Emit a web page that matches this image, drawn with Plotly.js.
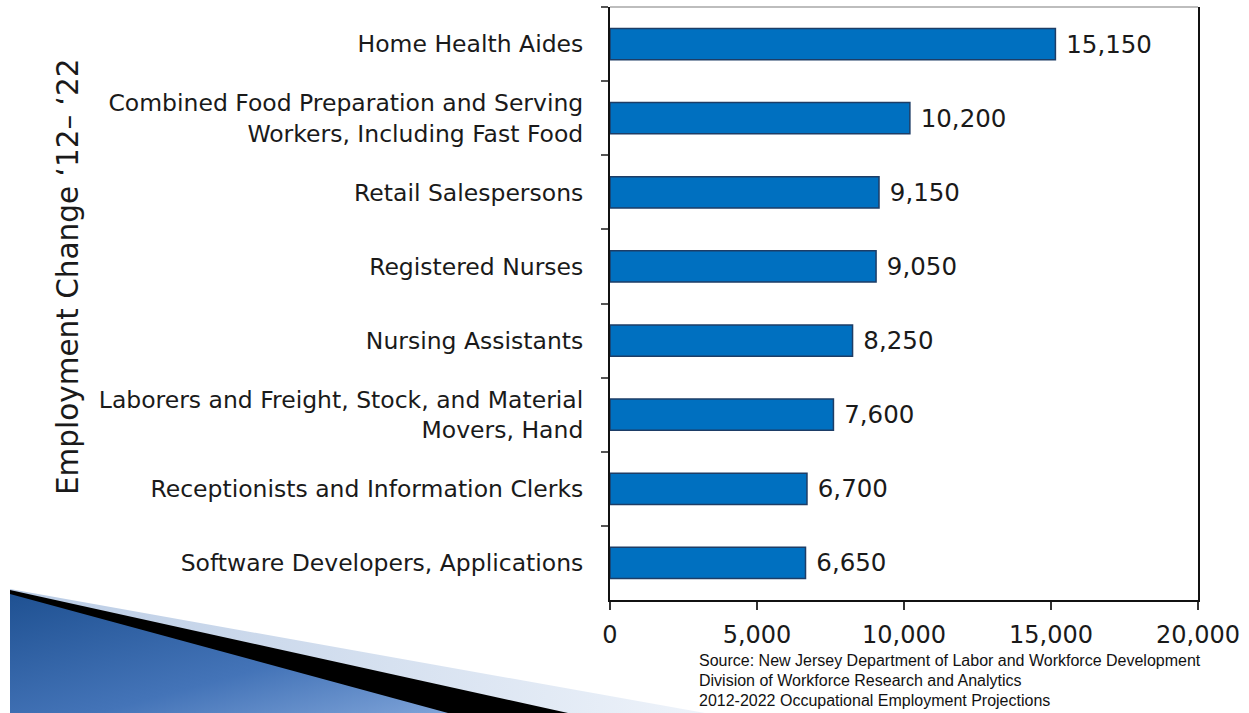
<!DOCTYPE html>
<html>
<head>
<meta charset="utf-8">
<script src="https://cdn.plot.ly/plotly-3.0.1.min.js"></script>
<style>
  html, body { margin:0; padding:0; background:#fff; }
  #wrap { position:relative; width:1249px; height:713px; overflow:hidden; }
  #deco { position:absolute; left:0; top:0; }
  #chart { position:absolute; left:0; top:0; width:1249px; height:713px; }
</style>
</head>
<body>
<div id="wrap">
<svg id="deco" width="1249" height="713">
  <defs>
    <linearGradient id="fade" x1="0" y1="0" x2="1" y2="0">
      <stop offset="0" stop-color="#b9cbe4"/>
      <stop offset="1" stop-color="#eef3fa"/>
    </linearGradient>
    <linearGradient id="blue" x1="0" y1="0" x2="1" y2="1">
      <stop offset="0" stop-color="#1f5192"/>
      <stop offset="0.6" stop-color="#4474b8"/>
      <stop offset="1" stop-color="#7ea3d8"/>
    </linearGradient>
  </defs>
  <polygon points="10,589 705,713 10,713" fill="url(#fade)"/>
  <polygon points="10,590 568,713 10,713" fill="#000"/>
  <polygon points="10,594 448,713 10,713" fill="url(#blue)"/>
</svg>
<div id="chart"></div>
</div>
<script>
const categories = [
  "Home Health Aides",
  "Combined Food Preparation and Serving<br>Workers, Including Fast Food",
  "Retail Salespersons",
  "Registered Nurses",
  "Nursing Assistants",
  "Laborers and Freight, Stock, and Material<br>Movers, Hand",
  "Receptionists and Information Clerks",
  "Software Developers, Applications"
];
const employmentChange = [15150, 10200, 9150, 9050, 8250, 7600, 6700, 6650];
const xTickValues = [0, 5000, 10000, 15000, 20000];
const xTickLabels = ["0", "5,000", "10,000", "15,000", "20,000"];
const yAxisTitle = "Employment Change \u201812\u2013 \u201822";
const sourceLines = [
  "Source: New Jersey Department of Labor and Workforce Development",
  "Division of Workforce Research and Analytics",
  "2012-2022 Occupational Employment Projections"
];

const font = "DejaVu Sans, Verdana, sans-serif";

const trace = {
  type: "bar",
  orientation: "h",
  y: categories,
  x: employmentChange,
  marker: { color: "#0070c0", line: { color: "#1d3d66", width: 1.5 } },
  text: employmentChange.map(v => " " + v.toLocaleString("en-US")),
  textposition: "outside",
  textfont: { family: font, size: 24.5, color: "#1a1a1a" },
  cliponaxis: false,
  hoverinfo: "skip"
};

const annotations = [
  {
    text: yAxisTitle, textangle: -90, showarrow: false,
    xref: "paper", yref: "paper", x: -0.922, y: 0.546,
    xanchor: "center", yanchor: "middle",
    font: { family: font, size: 29.5, color: "#1a1a1a" }
  }
];
sourceLines.forEach((s, i) => {
  annotations.push({
    text: s, showarrow: false, xref: "paper", yref: "paper",
    x: (697 - 610) / 588, y: 1 - (660 + i * 20 - 7) / 593,
    xanchor: "left", yanchor: "middle",
    font: { family: "Liberation Sans Narrow, Liberation Sans, sans-serif", size: 16, color: "#111" }
  });
});

const layout = {
  width: 1249, height: 713,
  margin: { l: 610, r: 51, t: 7, b: 113, pad: 0 },
  paper_bgcolor: "rgba(0,0,0,0)",
  plot_bgcolor: "#fff",
  showlegend: false,
  bargap: 0.58,
  xaxis: {
    range: [0, 20000],
    tickvals: xTickValues, ticktext: xTickLabels,
    showgrid: false, zeroline: false,
    showline: true, linecolor: "#111", linewidth: 2,
    ticks: "outside", ticklen: 8, tickwidth: 2, tickcolor: "#333",
    ticklabelstandoff: 4,
    tickfont: { family: font, size: 24, color: "#1a1a1a" },
    fixedrange: true
  },
  yaxis: {
    autorange: "reversed",
    showgrid: false, zeroline: false,
    showline: true, mirror: true, linecolor: "#111", linewidth: 2,
    ticks: "outside", tickson: "boundaries", ticklen: 7, tickwidth: 2, tickcolor: "#555",
    ticklabelstandoff: 20,
    tickfont: { family: font, size: 23.5, color: "#1a1a1a" },
    fixedrange: true
  },
  shapes: [
    { type: "line", xref: "paper", yref: "paper", x0: 0, x1: 1, y0: 1, y1: 1,
      line: { color: "#bdbdbd", width: 2 } }
  ],
  annotations: annotations
};

Plotly.newPlot("chart", [trace], layout, { displayModeBar: false, staticPlot: true });
</script>
</body>
</html>
